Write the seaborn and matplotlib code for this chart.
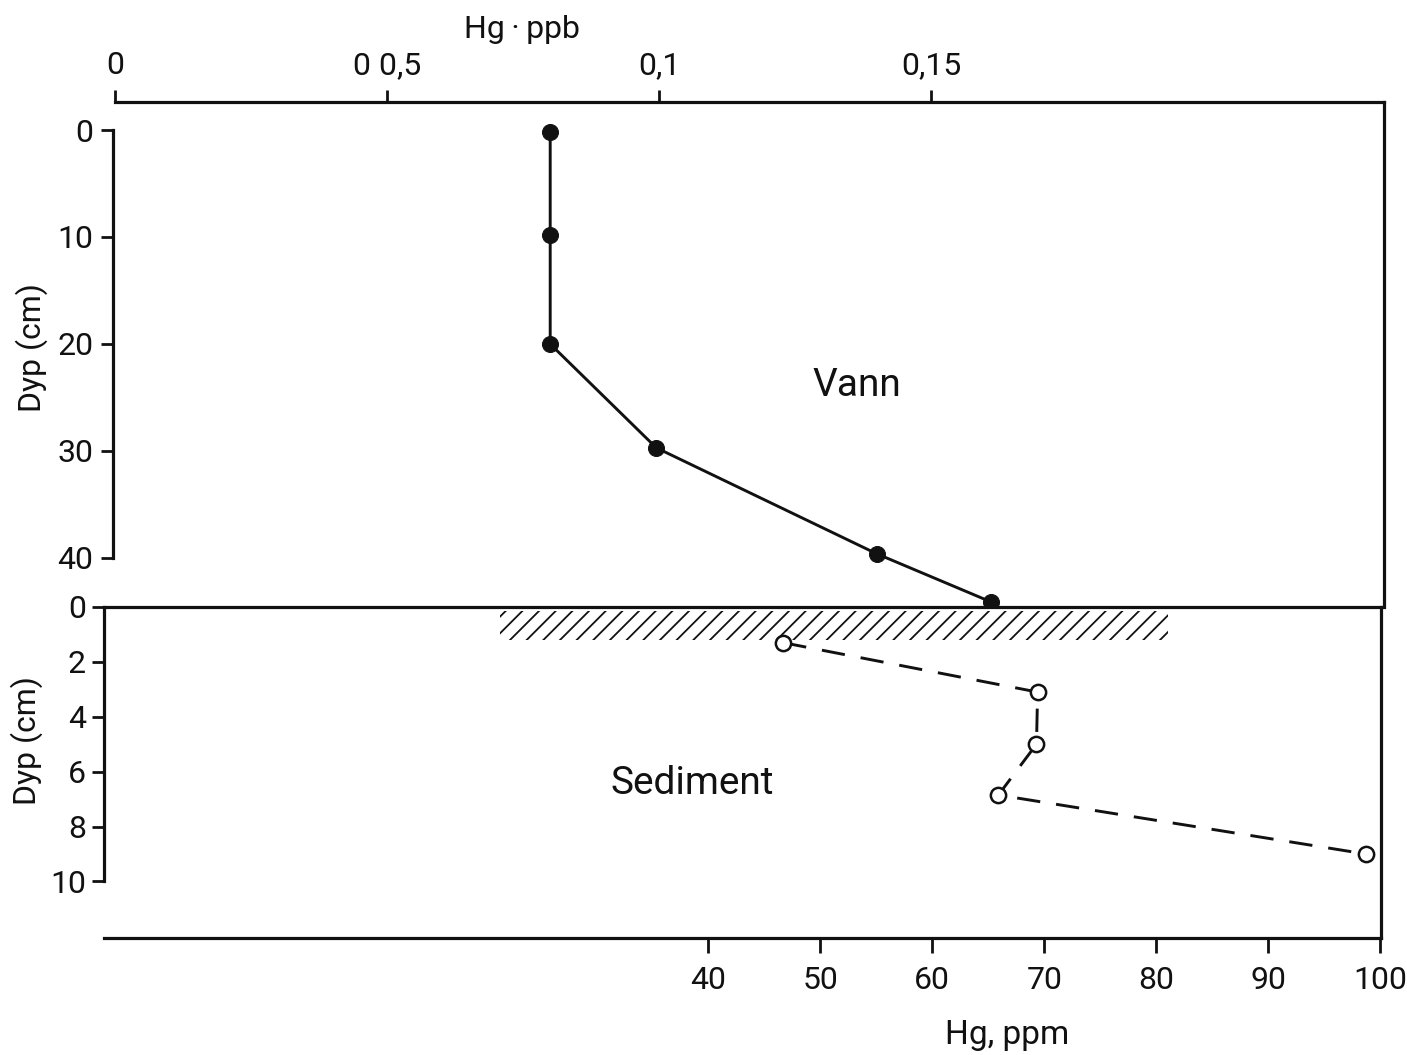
import matplotlib
matplotlib.use("Agg")
import matplotlib.pyplot as plt
import seaborn as sns
import pandas as pd
from matplotlib.patches import Rectangle

# ---- data ----
water_hg_ppb = [0.080, 0.080, 0.080, 0.0995, 0.140, 0.161]
water_depth_cm = [0.2, 9.8, 20.0, 29.7, 39.6, 44.1]
sed_hg_ppm = [46.7, 69.4, 69.3, 65.9, 98.7]
sed_depth_cm = [1.3, 3.1, 5.0, 6.85, 9.0]
top_ticks = [0, 0.05, 0.10, 0.15]
top_tick_labels = ["0", "0 0,5", "0,1", "0,15"]
water_depth_ticks = [0, 10, 20, 30, 40]
sed_depth_ticks = [0, 2, 4, 6, 8, 10]
bottom_ticks = [40, 50, 60, 70, 80, 90, 100]
band_ppm = [21.4, 81.0]
band_depth = [0.16, 1.2]

water = pd.DataFrame({"hg": water_hg_ppb, "depth": water_depth_cm})
sed = pd.DataFrame({"hg": sed_hg_ppm, "depth": sed_depth_cm})

sns.set_style("white")
plt.rcParams["font.family"] = ["Roboto", "DejaVu Sans"]
plt.rcParams["hatch.linewidth"] = 1.3
plt.rcParams["hatch.color"] = "#111111"

W, H = 1407, 1055
fig = plt.figure(figsize=(W / 100, H / 100), dpi=100)


def frac(l, r, t, b):
    return [l / W, 1 - b / H, (r - l) / W, (b - t) / H]


ink = "#111111"
spw = 2.3
tick_fs = 23

# ---- upper panel: water, Hg ppb ----
ax1 = fig.add_axes(frac(113, 1384, 102, 607))
ax1.patch.set_visible(False)
sns.lineplot(data=water, x="hg", y="depth", sort=False, estimator=None,
             color=ink, lw=2.1, marker="o", markersize=11.5,
             markerfacecolor=ink, markeredgecolor=ink, ax=ax1)
xmax1 = (1384 - 115) / 5440
ax1.set_xlim(-0.000368, xmax1)
ax1.set_ylim(44.58, -2.617)
ax1.xaxis.tick_top()
ax1.set_xticks(top_ticks, labels=top_tick_labels)
ax1.set_yticks(water_depth_ticks)
ax1.tick_params(axis="x", top=True, bottom=False, direction="out",
                length=8.6, width=2, labelsize=tick_fs, pad=7, colors=ink)
ax1.tick_params(axis="y", left=True, direction="out", length=9, width=2,
                labelsize=tick_fs, pad=5, colors=ink)
for s in ("top", "left", "right"):
    ax1.spines[s].set_visible(True)
    ax1.spines[s].set_linewidth(spw)
    ax1.spines[s].set_color(ink)
ax1.spines["bottom"].set_visible(False)
ax1.spines["top"].set_bounds(0, xmax1)
ax1.spines["left"].set_bounds(0, 40)
ax1.set_xlabel("")
ax1.set_ylabel("")

# ---- lower panel: sediment, Hg ppm ----
ax2 = fig.add_axes(frac(104, 1381, 607, 938))
ax2.patch.set_visible(False)
ax2.add_patch(Rectangle((band_ppm[0], band_depth[0]),
                        band_ppm[1] - band_ppm[0],
                        band_depth[1] - band_depth[0],
                        facecolor="none", edgecolor=ink, lw=0, hatch="//"))
sns.lineplot(data=sed, x="hg", y="depth", sort=False, estimator=None,
             color=ink, lw=2.1, linestyle=(0, (8, 5.5)), marker="o",
             markersize=11, markerfacecolor="white", markeredgecolor=ink,
             markeredgewidth=1.8, ax=ax2)
ax2.set_xlim(40 - (708 - 104) / 11.2, 100.05)
ax2.set_ylim(12.06, 0)
ax2.set_xticks(bottom_ticks)
ax2.set_yticks(sed_depth_ticks)
ax2.tick_params(axis="x", bottom=True, direction="out", length=10.5,
                width=2, labelsize=tick_fs, pad=10, colors=ink)
ax2.tick_params(axis="y", left=True, direction="out", length=9, width=2,
                labelsize=tick_fs, pad=4, colors=ink)
for s in ("top", "left", "right", "bottom"):
    ax2.spines[s].set_visible(True)
    ax2.spines[s].set_linewidth(spw)
    ax2.spines[s].set_color(ink)
ax2.spines["left"].set_bounds(0, 10)
ax2.set_xlabel("")
ax2.set_ylabel("")


def ftext(x, y, s, **kw):
    fig.text(x / W, 1 - y / H, s, ha="center", va="center", color=ink, **kw)


ftext(522, 30, "Hg\u2009·\u2009ppb", fontsize=23)
ftext(1007, 1035, "Hg, ppm", fontsize=24)
ftext(32, 348, "Dyp (cm)", fontsize=23, rotation=90)
ftext(27, 741, "Dyp (cm)", fontsize=23, rotation=90)
ftext(857, 385, "Vann", fontsize=28)
ftext(692, 783, "Sediment", fontsize=28)

fig.savefig("out.png", dpi=100, facecolor="white")
